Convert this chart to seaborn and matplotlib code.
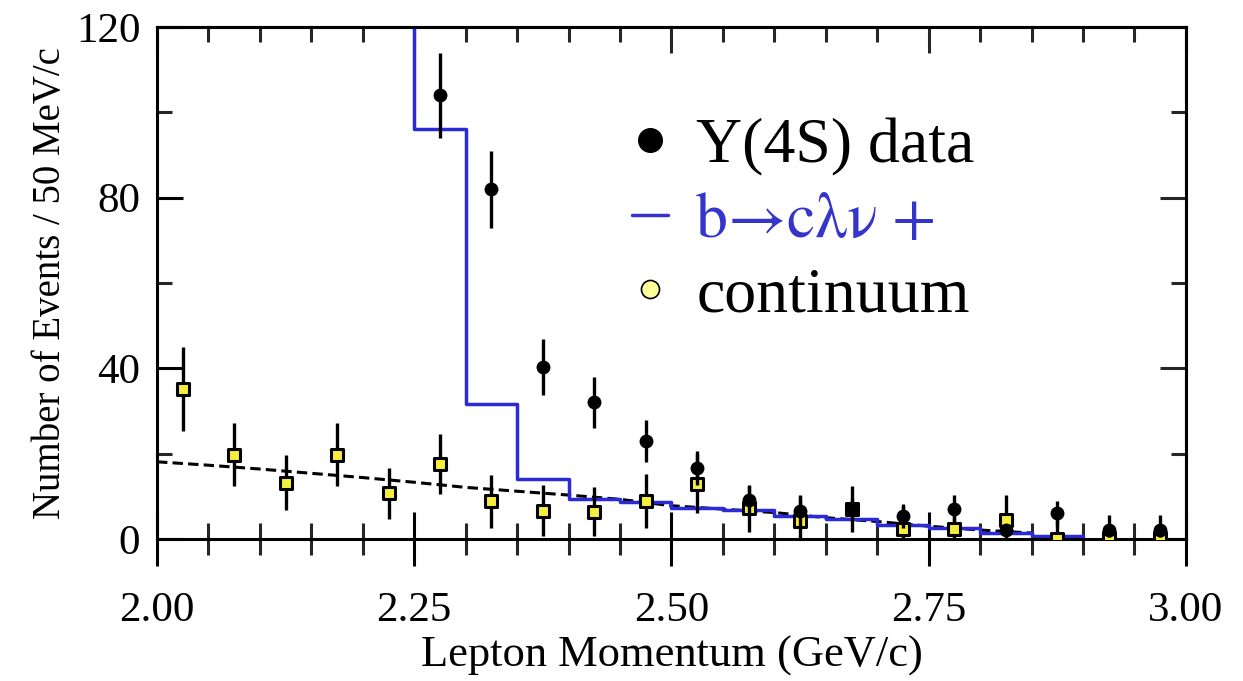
import numpy as np
import pandas as pd
import matplotlib
matplotlib.use("Agg")
import matplotlib.pyplot as plt
import seaborn as sns
from matplotlib.lines import Line2D
from matplotlib.ticker import MultipleLocator

# ---------------- data ----------------
y4s_p = [2.275, 2.325, 2.375, 2.425, 2.475, 2.525, 2.575, 2.625, 2.675, 2.725,
         2.775, 2.825, 2.875, 2.925, 2.975]
y4s_n = [104, 82, 40.3, 32, 23, 16.6, 9.1, 6.6, 7.0, 5.4, 7.0, 2.1, 6.0, 2.0, 2.0]
y4s_e = [10, 9, 6.5, 6, 5, 4, 3.3, 3.7, 2.7, 2.8, 3.3, 1.5, 2.9, 1.5, 1.5]

cont_p = [2.025, 2.075, 2.125, 2.175, 2.225, 2.275, 2.325, 2.375, 2.425, 2.475,
          2.525, 2.575, 2.625, 2.675, 2.725, 2.775, 2.825, 2.875, 2.925, 2.975]
cont_n = [35.2, 19.8, 13.2, 19.8, 10.7, 17.5, 8.8, 6.6, 6.4, 8.9,
          13.0, 7.2, 4.3, 7.0, 2.3, 2.3, 4.5, 0.0, 0.3, 0.3]
cont_e = [9.8, 7.3, 6.5, 7.3, 6.0, 7.0, 6.3, 6.0, 5.8, 6.3,
          7.0, 5.5, 5.5, 5.4, 5.5, 5.5, 5.8, 4.5, 5.3, 5.3]

mc_edges = [2.20, 2.25, 2.30, 2.35, 2.40, 2.45, 2.50, 2.55, 2.60, 2.65,
            2.70, 2.75, 2.80, 2.85, 2.90]
mc_vals = [160, 96, 31.6, 14.0, 9.3, 8.7, 7.3, 6.7, 5.5, 4.7, 3.3, 2.65, 1.5, 0.8]

fit_x = [2.00, 2.05, 2.10, 2.15, 2.20, 2.25, 2.30, 2.35, 2.40, 2.45,
         2.50, 2.55, 2.60, 2.65, 2.70, 2.75, 2.80, 2.85]
fit_y = [18.1, 17.3, 16.4, 15.4, 14.4, 13.3, 12.1, 11.2, 10.3, 9.3,
         7.8, 7.0, 6.2, 5.0, 4.1, 3.0, 2.1, 1.4]

x_ticks = [2.00, 2.25, 2.50, 2.75, 3.00]
x_ticklabels = ["2.00", "2.25", "2.50", "2.75", "3.00"]
y_ticks = [0, 40, 80, 120]
legend_labels = ["Y(4S) data", "b\u2192c\u03bb\u03bd +", "continuum"]

# ---------------- style ----------------
sns.set_theme(style="ticks")
plt.rcParams["font.family"] = ["Liberation Serif", "DejaVu Serif"]
plt.rcParams["axes.linewidth"] = 2.2

BLUE = "#2a2ad8"
LEG_BLUE = "#3535cc"
YELLOW = "#f6ee3c"
LW = 2.4

fig = plt.figure(figsize=(12.43, 6.81), dpi=100)
ax = fig.add_axes([0.1263, 0.2085, 0.8278, 0.7518])

# continuum fit (dashed)
sns.lineplot(x=fit_x, y=fit_y, ax=ax, color="black", lw=2.2,
             linestyle=(0, (3.4, 1.7)), estimator=None, sort=False, legend=False)

# b -> c l nu + continuum histogram
mc_df = pd.DataFrame({"p": mc_edges, "n": mc_vals + [mc_vals[-1]]})
sns.lineplot(data=mc_df, x="p", y="n", ax=ax, color=BLUE, lw=2.5,
             drawstyle="steps-post", estimator=None, sort=False, legend=False)

# continuum points
ax.errorbar(cont_p, cont_n, yerr=cont_e, fmt="none", ecolor="black",
            elinewidth=LW, capsize=0, zorder=3)
sns.scatterplot(x=cont_p, y=cont_n, ax=ax, marker="s", s=64, color=YELLOW,
                edgecolor="black", linewidth=2.2, zorder=4, legend=False)

# Y(4S) data
ax.errorbar(y4s_p, y4s_n, yerr=y4s_e, fmt="none", ecolor="black",
            elinewidth=LW, capsize=0, zorder=5)
sns.scatterplot(x=y4s_p, y=y4s_n, ax=ax, marker="o", s=100, color="black",
                edgecolor="black", linewidth=0, zorder=6, legend=False)

# axes
ax.set_xlim(2.0, 3.0)
ax.set_ylim(0, 120)
ax.set_xticks(x_ticks)
ax.set_xticklabels(x_ticklabels)
ax.set_yticks(y_ticks)
ax.xaxis.set_minor_locator(MultipleLocator(0.05))
ax.yaxis.set_minor_locator(MultipleLocator(20))
for s in ax.spines.values():
    s.set_visible(True)
    s.set_color("black")
    s.set_linewidth(2.2)

ax.tick_params(axis="x", which="major", direction="inout", length=39, width=2.2,
               labelsize=31, pad=18, colors="black", top=False)
ax.tick_params(axis="x", which="minor", direction="inout", length=23, width=2.2,
               top=False)
ax.tick_params(axis="y", which="major", direction="in", length=19, width=2.2,
               labelsize=31, pad=12, colors="black", right=False)
ax.tick_params(axis="y", which="minor", direction="in", length=11, width=2.2,
               right=False)

top = ax.secondary_xaxis("top")
top.set_xticks(x_ticks)
top.xaxis.set_minor_locator(MultipleLocator(0.05))
top.tick_params(which="major", direction="in", length=19, width=2.2, labeltop=False)
top.tick_params(which="minor", direction="in", length=11, width=2.2)
top.spines["top"].set_linewidth(2.2)

right = ax.secondary_yaxis("right")
right.set_yticks(y_ticks)
right.yaxis.set_minor_locator(MultipleLocator(20))
right.tick_params(which="major", direction="in", length=19, width=2.2, labelright=False)
right.tick_params(which="minor", direction="in", length=11, width=2.2)
right.spines["right"].set_linewidth(2.2)

ax.set_xlabel("Lepton Momentum (GeV/c)", fontsize=32, labelpad=4, color="black")
ax.set_ylabel("Number of Events / 50 MeV/c", fontsize=28, labelpad=5, color="black")
ax.grid(False)

handles = [
    Line2D([], [], ls="", marker="o", color="black", markersize=17),
    Line2D([], [], color=LEG_BLUE, lw=2.5),
    Line2D([], [], ls="", marker="o", markerfacecolor="#ffff99",
           markeredgecolor="black", markersize=13, markeredgewidth=1.2),
]
leg = ax.legend(handles, legend_labels, loc="upper left",
                bbox_to_anchor=(0.462, 0.823), frameon=False, fontsize=46,
                handlelength=0.55, handletextpad=0.45, labelspacing=0.25,
                borderpad=0, borderaxespad=0)
for t, c in zip(leg.get_texts(), ["black", LEG_BLUE, "black"]):
    t.set_color(c)
leg.get_texts()[1].set_fontfamily(["STIXGeneral", "Liberation Serif", "DejaVu Serif"])

fig.savefig("out.png", dpi=100)
